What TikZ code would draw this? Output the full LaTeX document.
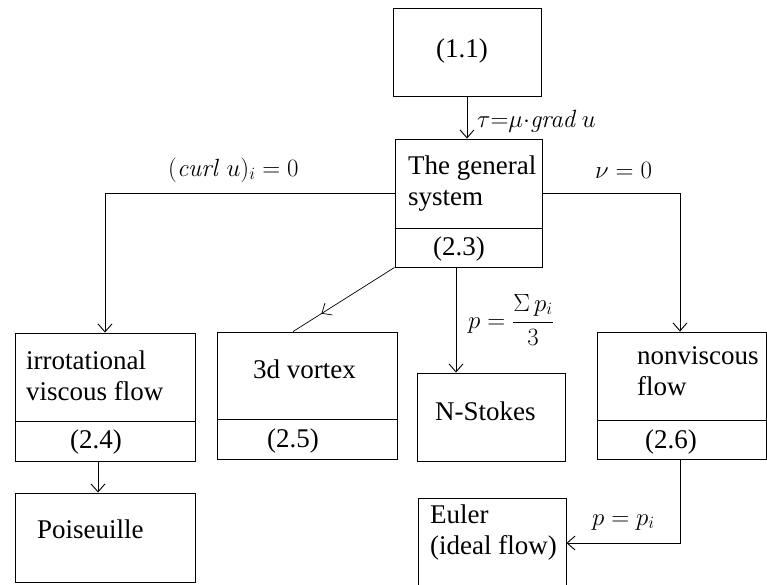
\documentclass[tikz,border=0pt]{standalone}
\usepackage[no-math]{fontspec}
\setmainfont{Liberation Serif}
\usetikzlibrary{arrows.meta,decorations.markings}

\tikzset{
  box/.style={draw, line width=0.9pt, inner sep=0pt},
  txt/.style={anchor=base west, inner sep=0pt, align=left, font=\fontsize{27}{30.5}\selectfont},
  lbl/.style={anchor=base west, inner sep=0pt, font=\fontsize{25}{30}\selectfont},
  arr/.style={line width=0.9pt, -{Straight Barb[length=8pt,width=14pt]}},
  midarr/.style={line width=0.7pt, postaction={decorate},
    decoration={markings, mark=at position 0.72 with {\arrow{Straight Barb[length=8pt,width=14pt]}}}}
}

\begin{document}
\begin{tikzpicture}[x=1pt,y=-1pt]
  \useasboundingbox (0,0) rectangle (767,584);
  % Kaesten
  \node[box, minimum width=148pt, minimum height=88pt] (eq11) at (467,52) {};
  \node[box, minimum width=147pt, minimum height=128pt] (gen) at (468.5,203) {};
  \node[box, minimum width=180pt, minimum height=128pt] (irrot) at (105,397) {};
  \node[box, minimum width=180pt, minimum height=127pt] (vortex) at (307,395.5) {};
  \node[box, minimum width=148pt, minimum height=88pt] (stokes) at (491,417) {};
  \node[box, minimum width=169pt, minimum height=127pt] (nonvisc) at (681.5,395.5) {};
  \node[box, minimum width=180pt, minimum height=89pt] (pois) at (105,537.5) {};
  \node[box, minimum width=148pt, minimum height=90pt] (euler) at (492,543) {};
  % Trennlinien
  \draw[line width=0.9pt] (gen.west |- 0,228) -- (gen.east |- 0,228);
  \draw[line width=0.9pt] (irrot.west |- 0,421) -- (irrot.east |- 0,421);
  \draw[line width=0.9pt] (vortex.west |- 0,419) -- (vortex.east |- 0,419);
  \draw[line width=0.9pt] (nonvisc.west |- 0,420) -- (nonvisc.east |- 0,420);
  % Texte (mehrzeilig: Grundlinie der letzten Zeile)
  \node[txt] (eq11-t) at (436,57) {(1.1)};
  \node[txt] (gen-t) at (408,205) {The general\\system};
  \node[txt] (gen-n) at (433,255) {(2.3)};
  \node[txt] (irrot-t) at (26,400) {irrotational\\viscous flow};
  \node[txt] (irrot-n) at (70,448) {(2.4)};
  \node[txt] (vortex-t) at (253,378) {3d vortex};
  \node[txt] (vortex-n) at (267,447) {(2.5)};
  \node[txt] (stokes-t) at (435,420) {N-Stokes};
  \node[txt] (nonvisc-t) at (637,395) {nonviscous\\flow};
  \node[txt] (nonvisc-n) at (645,448) {(2.6)};
  \node[txt] (pois-t) at (37,538) {Poiseuille};
  \node[txt] (euler-t) at (430,554) {Euler\\(ideal flow)};
  % Pfeile
  \draw[arr] (eq11.south) -- (eq11.south |- gen.north);
  \node[lbl] (tau) at (477,127) {$\tau{=}\mu{\cdot}\mathit{grad}\,u$};
  \draw[arr] ([yshift=10pt]gen.west) -| (irrot.north);
  \node[lbl] (curl) at (168,176) {$(\mathit{curl}\ u)_i = 0$};
  \draw[arr] ([yshift=10pt]gen.east) -| ([xshift=-1.5pt]nonvisc.north);
  \node[lbl] (nu) at (595,178) {$\nu = 0$};
  \draw[midarr] (gen.south west) -- ([xshift=-14pt]vortex.north);
  \draw[arr] ([xshift=-12.5pt]gen.south) -- ([xshift=-12.5pt]gen.south |- stokes.north);
  \node[lbl] (psum) at (468,328) {$\displaystyle p = \frac{\Sigma\, p_i}{3}$};
  \draw[arr] ([xshift=-7pt]irrot.south) -- ([xshift=-7pt]pois.north);
  \draw[arr] ([xshift=-1.5pt]nonvisc.south) |- (euler.east);
  \node[lbl] (peq) at (592,525) {$p = p_i$};
\end{tikzpicture}
\end{document}
